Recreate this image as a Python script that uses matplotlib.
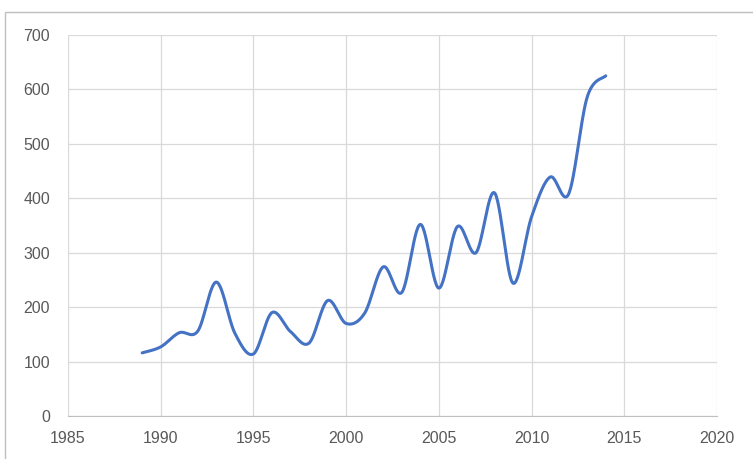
import numpy as np
import matplotlib.pyplot as plt
from matplotlib.patches import Rectangle

years = list(range(1989, 2015))
values = [116, 127, 153, 156, 246, 152, 114, 190, 155, 134, 212, 170, 189,
          274, 227, 352, 235, 348, 300, 410, 244, 366, 439, 408, 586, 625]


def smooth(x, y, n=30):
    # excel-like smoothed line: catmull-rom bezier segments
    x = np.asarray(x, float)
    y = np.asarray(y, float)
    px = np.concatenate([[x[0]], x, [x[-1]]])
    py = np.concatenate([[y[0]], y, [y[-1]]])
    xs, ys = [], []
    t = np.linspace(0, 1, n)
    for i in range(1, len(px) - 2):
        p0 = np.array([px[i], py[i]])
        p3 = np.array([px[i + 1], py[i + 1]])
        p1 = p0 + (np.array([px[i + 1], py[i + 1]]) - np.array([px[i - 1], py[i - 1]])) / 6
        p2 = p3 - (np.array([px[i + 2], py[i + 2]]) - np.array([px[i], py[i]])) / 6
        b = ((1 - t) ** 3)[:, None] * p0 + (3 * (1 - t) ** 2 * t)[:, None] * p1 \
            + (3 * (1 - t) * t ** 2)[:, None] * p2 + (t ** 3)[:, None] * p3
        xs.extend(b[:, 0])
        ys.extend(b[:, 1])
    return xs, ys


plt.rcParams['font.family'] = ['Liberation Sans', 'DejaVu Sans']

fig = plt.figure(figsize=(7.53, 4.59), dpi=100)
ax = fig.add_axes([68 / 753, 1 - 416 / 459, (717 - 68) / 753, (416 - 35) / 459])

sx, sy = smooth(years, values)
ax.plot(sx, sy, color='#4472C4', lw=2.2, solid_capstyle='round')

ax.set_xlim(1985, 2020)
ax.set_ylim(0, 700)
ax.set_xticks(range(1985, 2021, 5))
ax.set_yticks(range(0, 701, 100))
ax.grid(True, color='#d9d9d9', lw=0.9)
ax.set_axisbelow(True)
for s in ['top', 'right', 'left']:
    ax.spines[s].set_visible(False)
ax.spines['bottom'].set_color('#bfbfbf')
ax.tick_params(length=0, labelsize=11.5, colors='#595959')
ax.tick_params(axis='x', pad=11)
ax.tick_params(axis='y', pad=13)

fig.patches.append(Rectangle((5 / 753, -0.1), 1.2, 1 - 12 / 459 + 0.1,
                             transform=fig.transFigure, fill=False,
                             edgecolor='#bfbfbf', lw=1))

fig.savefig('out.png', dpi=100)
